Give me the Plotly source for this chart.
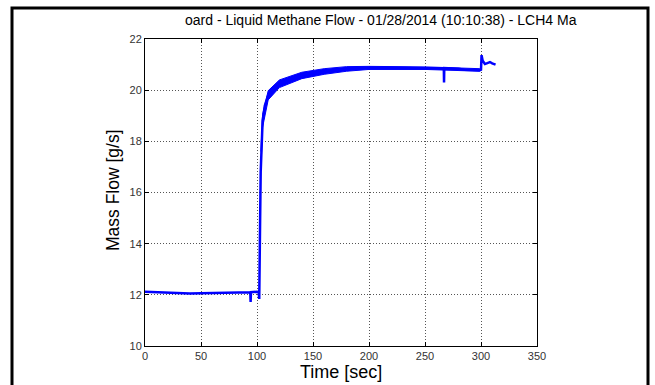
import plotly.graph_objects as go

# ---- data ----
time_s = [0, 10, 20, 30, 40, 50, 60, 70, 80, 90, 94, 94.3, 94.6, 100, 101.5, 102,
          102.3, 102.8, 103.3, 104, 105, 107, 110, 115, 120, 130, 140, 150, 165, 180,
          195, 210, 225, 240, 255, 266.8, 267, 267.2, 280, 285, 299, 300, 300.5, 301.5,
          303.5, 306, 308, 310, 313]
mass_flow = [12.12, 12.10, 12.08, 12.06, 12.05, 12.06, 12.07, 12.08, 12.09, 12.10, 12.10, 11.72, 12.10, 12.12, 12.10, 11.84,
             12.5, 15.0, 16.8, 17.9, 18.8, 19.4, 19.8, 20.1, 20.25, 20.45, 20.57, 20.65, 20.75, 20.83,
             20.87, 20.88, 20.87, 20.86, 20.86, 20.86, 20.3, 20.86, 20.84, 20.8, 20.78, 20.8, 21.37, 21.15,
             21.02, 21.08, 21.1, 21.05, 21.0]

# noise envelope of the trace after the step
band_time = [103.5, 105, 110, 120, 140, 160, 180, 200, 250, 299]
band_low = [16.9, 18.55, 19.62, 20.1, 20.45, 20.62, 20.74, 20.81, 20.81, 20.74]
band_high = [17.6, 19.05, 19.98, 20.4, 20.7, 20.84, 20.92, 20.93, 20.91, 20.84]

x_ticks = [0, 50, 100, 150, 200, 250, 300, 350]
y_ticks = [10, 12, 14, 16, 18, 20, 22]

title_text = "oard - Liquid Methane Flow - 01/28/2014 (10:10:38) - LCH4 Ma"
x_title = "Time [sec]"
y_title = "Mass Flow [g/s]"

BLUE = "#0000ff"

fig = go.Figure()
fig.add_trace(go.Scatter(x=band_time, y=band_low, mode="lines",
                         line=dict(color=BLUE, width=1), showlegend=False, hoverinfo="skip"))
fig.add_trace(go.Scatter(x=band_time, y=band_high, mode="lines", fill="tonexty",
                         fillcolor=BLUE, line=dict(color=BLUE, width=1),
                         showlegend=False, hoverinfo="skip"))
fig.add_trace(go.Scatter(x=time_s, y=mass_flow, mode="lines",
                         line=dict(color=BLUE, width=2.5), showlegend=False))

W, H = 655, 385
L, R, T, B = 145, 537, 39, 346

axis_common = dict(showline=True, linecolor="#000000", linewidth=1, mirror="ticks",
                   ticks="inside", ticklen=4, tickcolor="#000000",
                   showgrid=True, gridcolor="#555555", gridwidth=1, griddash="1px,2px",
                   zeroline=False,
                   tickfont=dict(family="Liberation Sans, Arial", size=11, color="#333333"))

fig.update_layout(
    width=W, height=H,
    margin=dict(l=L, r=W - R, t=T, b=H - B, pad=0),
    paper_bgcolor="white", plot_bgcolor="white",
    xaxis=dict(range=[0, 350], tickvals=x_ticks, ticktext=[str(v) for v in x_ticks], **axis_common),
    yaxis=dict(range=[10, 22], tickvals=y_ticks, ticktext=[str(v) for v in y_ticks], **axis_common),
)

def px_x(px):
    return (px - L) / (R - L)

def px_y(py):
    return (B - py) / (B - T)

# outer black frame
fig.add_shape(type="rect", xref="paper", yref="paper",
              x0=px_x(12), x1=px_x(648), y0=px_y(395), y1=px_y(8),
              line=dict(color="black", width=3), fillcolor="rgba(0,0,0,0)", layer="above")

fig.add_annotation(text=title_text, xref="paper", yref="paper", x=px_x(381), y=px_y(20),
                   showarrow=False,
                   font=dict(family="Liberation Sans, Arial", size=14, color="#000000"),
                   xanchor="center", yanchor="middle")
fig.add_annotation(text=x_title, xref="paper", yref="paper", x=px_x(341), y=px_y(372),
                   showarrow=False,
                   font=dict(family="Liberation Sans, Arial", size=18, color="#000000"),
                   xanchor="center", yanchor="middle")
fig.add_annotation(text=y_title, xref="paper", yref="paper", x=px_x(113), y=px_y(190),
                   showarrow=False,
                   font=dict(family="Liberation Sans, Arial", size=17.5, color="#000000"),
                   textangle=-90, xanchor="center", yanchor="middle")

fig.write_html("out.html")
